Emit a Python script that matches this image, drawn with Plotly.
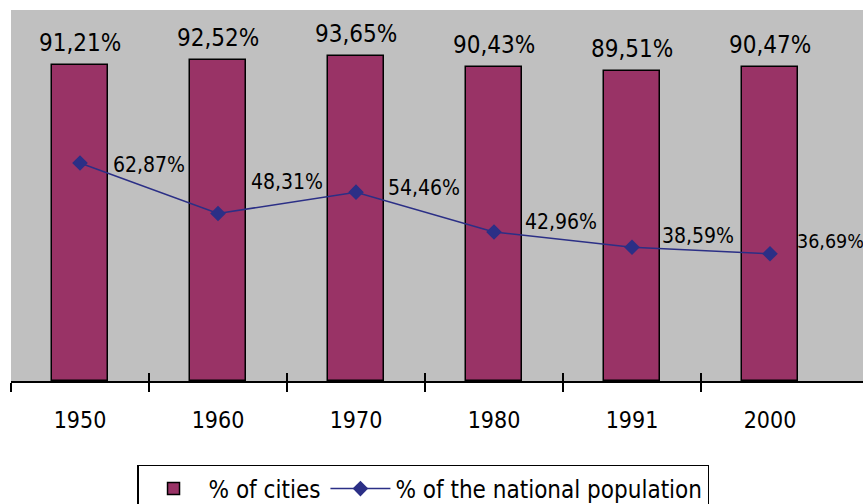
import plotly.graph_objects as go

years = ["1950", "1960", "1970", "1980", "1991", "2000"]
pct_cities = [91.21, 92.52, 93.65, 90.43, 89.51, 90.47]
pct_national = [62.87, 48.31, 54.46, 42.96, 38.59, 36.69]
cities_labels = ["91,21%", "92,52%", "93,65%", "90,43%", "89,51%", "90,47%"]
national_labels = ["62,87%", "48,31%", "54,46%", "42,96%", "38,59%", "36,69%"]

FONT = "DejaVu Sans Condensed, DejaVu Sans, sans-serif"
xs = list(range(len(years)))
boundaries = [i - 0.5 for i in xs]
xrange_ = [-0.5, 5.674]

fig = go.Figure()
fig.add_trace(go.Bar(
    x=xs, y=pct_cities, name="% of cities", width=0.406,
    marker=dict(color="#993366", line=dict(color="black", width=1.5)),
    xaxis="x", yaxis="y", hoverinfo="skip",
))
fig.add_trace(go.Scatter(
    x=xs, y=pct_national, name="% of the national population",
    mode="lines+markers",
    line=dict(color="#2B2F86", width=1.5),
    marker=dict(symbol="diamond", size=12, color="#2B2F86"),
    xaxis="x2", yaxis="y", hoverinfo="skip",
))

annotations = []
for i, (v, t) in enumerate(zip(pct_cities, cities_labels)):
    annotations.append(dict(x=i, y=v, xref="x", yref="y", text=t, showarrow=False,
                            yanchor="bottom", yshift=6,
                            font=dict(family=FONT, size=24, color="black")))
line_yshift = [-2, 32, 4, 10, 11, 12]
line_xshift = [69, 69, 68, 67, 66, 61]
line_size = [21, 21, 21, 21, 21, 19.5]
for i, (v, t) in enumerate(zip(pct_national, national_labels)):
    annotations.append(dict(x=i, y=v, xref="x", yref="y", text=t, showarrow=False,
                            xshift=line_xshift[i], yshift=line_yshift[i],
                            font=dict(family=FONT, size=line_size[i], color="black")))

fig.update_layout(
    width=863, height=504,
    margin=dict(l=11, r=0, t=10, b=123, autoexpand=False),
    paper_bgcolor="white", plot_bgcolor="#C0C0C0",
    font=dict(family=FONT, size=22, color="black"),
    bargap=0,
    showlegend=True,
    legend=dict(orientation="h", x=0.4836, xanchor="center", y=-0.2264, yanchor="top",
                bgcolor="white", bordercolor="black", borderwidth=1.5,
                font=dict(family=FONT, size=24, color="black"),
                itemwidth=60, tracegroupgap=0),
    xaxis=dict(range=xrange_, tickmode="array", tickvals=xs, ticktext=years,
               ticks="outside", ticklen=17, tickcolor="rgba(0,0,0,0)",
               showline=True, linecolor="black", linewidth=2, showgrid=False,
               zeroline=False, tickfont=dict(family=FONT, size=23), automargin=False,
               minor=dict(tickmode="array", tickvals=boundaries[:6], ticks="outside",
                          ticklen=9, tickwidth=2, tickcolor="black", showgrid=False)),
    xaxis2=dict(range=xrange_, overlaying="x", anchor="y", side="bottom",
                tickmode="array", tickvals=boundaries[:6], ticks="inside", ticklen=8,
                tickwidth=2, tickcolor="black", showticklabels=False, automargin=False,
                showline=False, showgrid=False, zeroline=False),
    yaxis=dict(range=[0, 107], showgrid=False, showticklabels=False, ticks="",
               zeroline=False, showline=False, automargin=False),
    annotations=annotations,
)

fig.write_html("out.html", config={"displayModeBar": False},
               post_script="document.body.style.margin='0';document.body.style.overflow='hidden';")
